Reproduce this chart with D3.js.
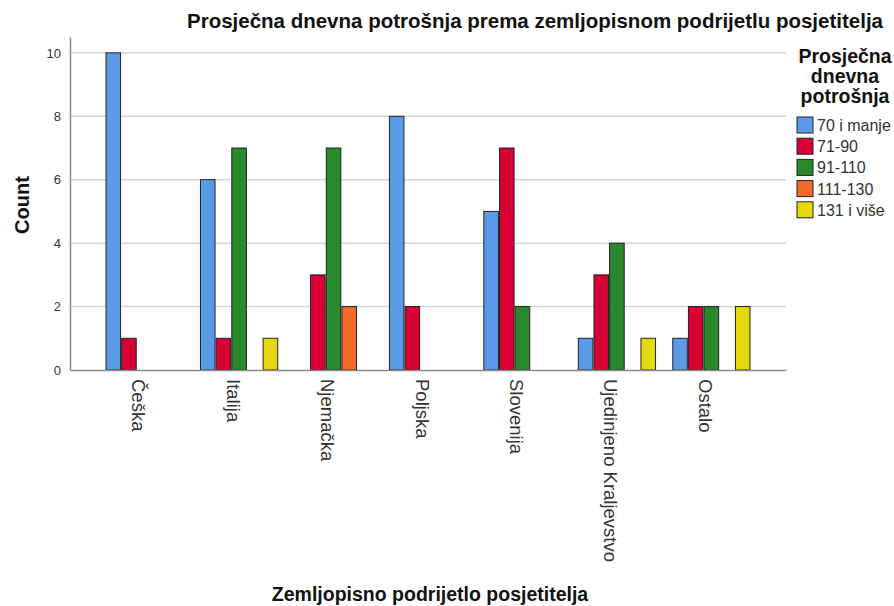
<!DOCTYPE html>
<html>
<head>
<meta charset="utf-8">
<script src="https://cdn.jsdelivr.net/npm/d3@7"></script>
<style>
  body { margin: 0; background: #fff; }
  text { font-family: "Liberation Sans", Arial, sans-serif; }
</style>
</head>
<body>
<svg id="chart" width="894" height="606"></svg>
<script>
const countries = ["Češka", "Italija", "Njemačka", "Poljska", "Slovenija", "Ujedinjeno Kraljevstvo", "Ostalo"];
const seriesNames = ["70 i manje", "71-90", "91-110", "111-130", "131 i više"];
const seriesColors = ["#5b9ae6", "#d70034", "#2a892c", "#f26b29", "#e5d80f"];

// counts per spending class, in country order
const s70 = [10, 6, 0, 8, 5, 1, 1];
const s71 = [1, 1, 3, 2, 7, 3, 2];
const s91 = [0, 7, 7, 0, 2, 4, 2];
const s111 = [0, 0, 2, 0, 0, 0, 0];
const s131 = [0, 1, 0, 0, 0, 1, 2];
const yTicks = [0, 2, 4, 6, 8, 10];

const seriesValues = [s70, s71, s91, s111, s131];

const svg = d3.select("#chart");
const mLeft = 70, mRight = 786, mTop = 37, mBottom = 370;

const x = d3.scaleBand()
  .domain(countries)
  .range([mLeft, mRight])
  .paddingInner(0)
  .paddingOuter(0.29);

const xs = d3.scaleBand()
  .domain(seriesNames)
  .range([0, x.bandwidth()])
  .paddingInner(0.07)
  .paddingOuter(0.55);

const y = d3.scaleLinear()
  .domain([0, 10.5])
  .range([mBottom, mTop]);

// gridlines
svg.append("g")
  .selectAll("line")
  .data(yTicks.filter(d => d > 0))
  .enter()
  .append("line")
  .attr("x1", mLeft)
  .attr("x2", mRight)
  .attr("y1", d => y(d))
  .attr("y2", d => y(d))
  .attr("stroke", "#d6d6d6")
  .attr("stroke-width", 1.5);

// y axis
const yAxis = svg.append("g")
  .attr("transform", `translate(${mLeft},0)`)
  .call(d3.axisLeft(y).tickValues(yTicks).tickSize(0).tickPadding(9).tickFormat(d3.format("d")));
yAxis.select(".domain").attr("stroke", "#8c8c8c").attr("stroke-width", 1.5);
yAxis.selectAll("text")
  .attr("font-size", 13)
  .attr("fill", "#333")
  .style("font-family", "'Liberation Sans', Arial, sans-serif");

// bars
const rows = [];
countries.forEach((c, i) => {
  seriesNames.forEach((s, j) => {
    if (seriesValues[j][i] > 0) rows.push({ country: c, series: s, value: seriesValues[j][i], color: seriesColors[j] });
  });
});

svg.append("g")
  .selectAll("rect")
  .data(rows)
  .enter()
  .append("rect")
  .attr("x", d => x(d.country) + xs(d.series))
  .attr("y", d => y(d.value))
  .attr("width", xs.bandwidth())
  .attr("height", d => y(0) - y(d.value))
  .attr("fill", d => d.color)
  .attr("stroke", "#222")
  .attr("stroke-width", 1);

// x axis
const xAxis = svg.append("g")
  .attr("transform", `translate(0,${mBottom})`)
  .call(d3.axisBottom(x).tickSize(0).tickPadding(0));
xAxis.select(".domain").attr("stroke", "#8c8c8c").attr("stroke-width", 1.5);
xAxis.selectAll("text")
  .attr("transform", "translate(-6,9) rotate(90)")
  .attr("x", 0)
  .attr("y", 0)
  .attr("dy", "0.35em")
  .attr("text-anchor", "start")
  .attr("font-size", 18.5)
  .attr("fill", "#333")
  .style("font-family", "'Liberation Sans', Arial, sans-serif");

// titles
svg.append("text")
  .attr("x", 535)
  .attr("y", 28)
  .attr("text-anchor", "middle")
  .attr("font-size", 20.5)
  .attr("font-weight", "bold")
  .attr("fill", "#111")
  .text("Prosječna dnevna potrošnja prema zemljopisnom podrijetlu posjetitelja");

svg.append("text")
  .attr("x", 430)
  .attr("y", 601)
  .attr("text-anchor", "middle")
  .attr("font-size", 19.5)
  .attr("font-weight", "bold")
  .attr("fill", "#111")
  .text("Zemljopisno podrijetlo posjetitelja");

svg.append("text")
  .attr("transform", `translate(29,205) rotate(-90)`)
  .attr("text-anchor", "middle")
  .attr("font-size", 20)
  .attr("font-weight", "bold")
  .attr("fill", "#111")
  .text("Count");

// legend
const legendTitle = ["Prosječna", "dnevna", "potrošnja"];
svg.append("g")
  .selectAll("text")
  .data(legendTitle)
  .enter()
  .append("text")
  .attr("x", 845)
  .attr("y", (d, i) => 63 + i * 20)
  .attr("text-anchor", "middle")
  .attr("font-size", 19.5)
  .attr("font-weight", "bold")
  .attr("fill", "#111")
  .text(d => d);

const legend = svg.append("g")
  .selectAll("g")
  .data(seriesNames)
  .enter()
  .append("g")
  .attr("transform", (d, i) => `translate(797,${117 + i * 21.2})`);

legend.append("rect")
  .attr("width", 16)
  .attr("height", 16)
  .attr("fill", (d, i) => seriesColors[i])
  .attr("stroke", "#222")
  .attr("stroke-width", 1);

legend.append("text")
  .attr("x", 20)
  .attr("y", 14)
  .attr("font-size", 16)
  .attr("fill", "#333")
  .text(d => d);
</script>
</body>
</html>
